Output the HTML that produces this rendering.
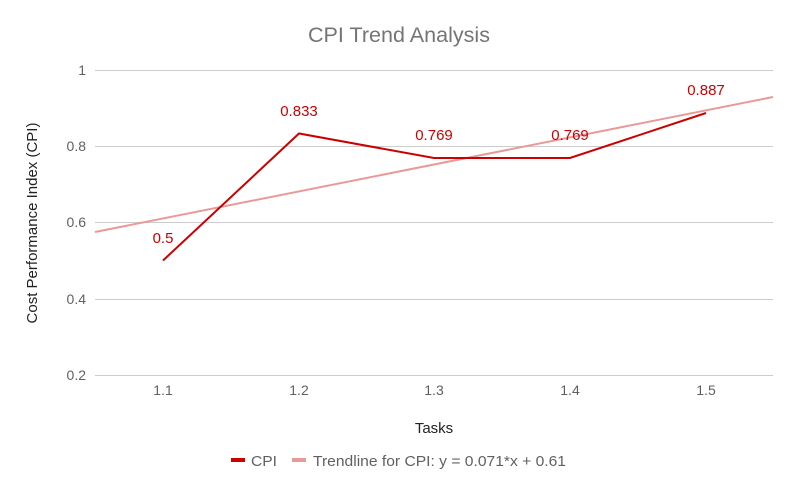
<!DOCTYPE html>
<html><head><meta charset="utf-8"><style>
body{margin:0;background:#fff;}
svg{display:block;font-family:"Liberation Sans",Roboto,sans-serif;}
</style></head><body>
<svg width="798" height="493" viewBox="0 0 798 493" xmlns="http://www.w3.org/2000/svg">
<rect width="798" height="493" fill="#fff"/>
<text x="308" y="42" font-size="21" fill="#757575" textLength="182" lengthAdjust="spacingAndGlyphs">CPI Trend Analysis</text>
<g stroke="#cccccc" stroke-width="1">
<line x1="95" y1="70.5" x2="773" y2="70.5"/>
<line x1="95" y1="146.5" x2="773" y2="146.5"/>
<line x1="95" y1="222.5" x2="773" y2="222.5"/>
<line x1="95" y1="299.5" x2="773" y2="299.5"/>
<line x1="95" y1="375.5" x2="773" y2="375.5"/>
</g>
<g font-size="14" fill="#616161" text-anchor="end">
<text x="86" y="75">1</text>
<text x="86" y="151">0.8</text>
<text x="86" y="227">0.6</text>
<text x="86" y="304">0.4</text>
<text x="86" y="380">0.2</text>
</g>
<g font-size="14" fill="#616161" text-anchor="middle">
<text x="163" y="395">1.1</text>
<text x="299" y="395">1.2</text>
<text x="434" y="395">1.3</text>
<text x="570" y="395">1.4</text>
<text x="706" y="395">1.5</text>
</g>
<text x="434" y="433" text-anchor="middle" font-size="15" fill="#222">Tasks</text>
<text transform="translate(37,223) rotate(-90)" text-anchor="middle" font-size="15" fill="#222">Cost Performance Index (CPI)</text>
<line x1="95" y1="232" x2="773" y2="97" stroke="#ea9999" stroke-width="2"/>
<polyline points="163,260.5 299,133.5 434,158 570,158 706,113" fill="none" stroke="#cc0000" stroke-width="2"/>
<g font-size="15" fill="#cc0000" text-anchor="middle">
<text x="163" y="243">0.5</text>
<text x="299" y="116">0.833</text>
<text x="434" y="140">0.769</text>
<text x="570" y="140">0.769</text>
<text x="706" y="95">0.887</text>
</g>
<rect x="231" y="458" width="14" height="4" fill="#cc0000"/>
<text x="251" y="466" font-size="15" fill="#616161" textLength="26" lengthAdjust="spacingAndGlyphs">CPI</text>
<rect x="292" y="458" width="14" height="4" fill="#ea9999"/>
<text x="313" y="466" font-size="15" fill="#616161" textLength="253" lengthAdjust="spacingAndGlyphs">Trendline for CPI: y = 0.071*x + 0.61</text>
</svg>
</body></html>
